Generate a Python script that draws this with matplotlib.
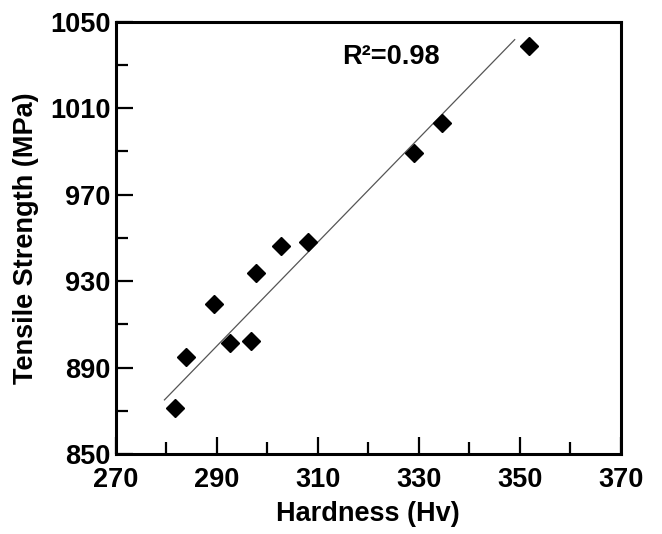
import numpy as np
import matplotlib as mpl
import matplotlib.pyplot as plt
# -------------------------------------------------------------------------------------------------

mpl.use('AGG')

# Data
hardness = [281.7, 283.8, 289.4, 292.6, 296.7, 297.7, 302.7, 308.0, 329.0, 334.5, 351.8]
tensile = [871.3, 895.1, 919.3, 901.3, 902.4, 933.7, 946.4, 948.3, 989.4, 1003.3, 1038.8]

# Trend line as drawn in the reference
fit_slope = 2.40
fit_intercept = 204.1
fit_range = [279.6, 349.0]
r2_text = 'R\u00b2=0.98'

xticks_major = [270, 290, 310, 330, 350, 370]
xticks_minor = [280, 300, 320, 340, 360]
yticks_major = [850, 890, 930, 970, 1010, 1050]
yticks_minor = [870, 910, 950, 990, 1030]

plt.rcParams['font.family'] = ['Liberation Sans', 'DejaVu Sans']
plt.rcParams['font.weight'] = 'bold'
plt.rcParams['font.size'] = 19.5

(fig, ax1) = plt.subplots(figsize=(6.62, 5.34), dpi=100, facecolor='white')
fig.subplots_adjust(left=0.1752, right=0.9376, bottom=0.1493, top=0.9594)

# Trend line
fit_x = np.array(fit_range)
ax1.plot(fit_x, fit_slope * fit_x + fit_intercept, color='#555555', linewidth=0.9, zorder=2)

ax1.plot(hardness, tensile, linestyle='none', marker='D', markersize=9.6,
	color='black', zorder=3
)

ax1.text(314.9, 1033.8, r2_text, fontsize=19.5, fontweight='bold',
	ha='left', va='center'
)

# Axes, ticks
ax1.set_xlim(270, 370)
ax1.set_ylim(850, 1050)
ax1.set_xticks(xticks_major)
ax1.set_xticks(xticks_minor, minor=True)
ax1.set_yticks(yticks_major)
ax1.set_yticks(yticks_minor, minor=True)

ax1.tick_params(which='both', direction='in', top=False, right=False, width=1.6, color='black')
ax1.tick_params(which='major', length=12.5)
ax1.tick_params(which='minor', length=8.8)
ax1.tick_params(axis='x', which='major', pad=9)
ax1.tick_params(axis='y', which='major', pad=4)

for spine in ax1.spines.values():
	spine.set_linewidth(2.2)
	spine.set_color('black')

ax1.set_xlabel('Hardness (Hv)', fontsize=19.5, fontweight='bold', labelpad=6)
ax1.set_ylabel('Tensile Strength (MPa)', fontsize=19.5, fontweight='bold', labelpad=8)

fig.savefig('out.png', dpi=100)
plt.close()
